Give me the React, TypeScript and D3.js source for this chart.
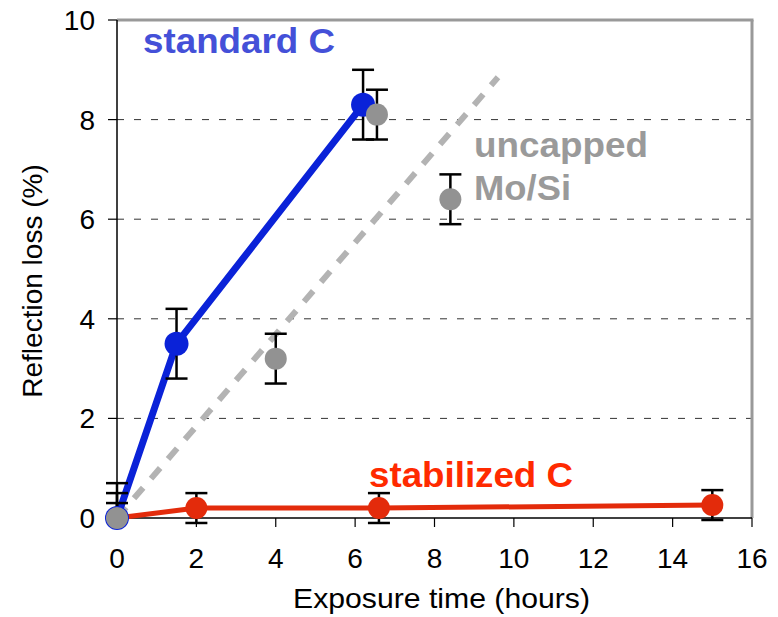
import * as d3 from 'd3';

// exposure time (hours) and reflection loss (%)
const standardX = [0, 1.5, 6.2];
const standardY = [0, 3.5, 8.3];
const standardErr = [0.7, 0.7, 0.7];

const uncappedX = [0, 4, 6.55, 8.4];
const uncappedY = [0, 3.2, 8.1, 6.4];
const uncappedErr = [0.5, 0.5, 0.5, 0.5];

const stabilizedX = [0, 2, 6.6, 15];
const stabilizedY = [0, 0.2, 0.2, 0.26];
const stabilizedErr = [0.3, 0.3, 0.3, 0.3];

// dashed trend for uncapped Mo/Si
const trendX = [0, 9.6];
const trendY = [0, 8.85];

const xTicks = [0, 2, 4, 6, 8, 10, 12, 14, 16];
const yTicks = [0, 2, 4, 6, 8, 10];
const gridTicks = [2, 4, 6, 8];

const W = 778;
const H = 617;
const FONT = "'Liberation Sans', Arial, Helvetica, sans-serif";

function App() {
  const x = d3.scaleLinear().domain([0, 16]).range([117, 752]);
  const y = d3.scaleLinear().domain([0, 10]).range([518, 20]);

  const toPts = (xs: number[], ys: number[]) => xs.map((v, i) => [v, ys[i]] as [number, number]);
  const line = d3.line<[number, number]>().x((d) => x(d[0])).y((d) => y(d[1]));

  // error bars: at t=0 only the upper half shows
  const errBars = (xs: number[], ys: number[], es: number[], key: string) =>
    xs.map((v, i) => {
      const cx = x(v);
      const lo = v === 0 ? ys[i] : ys[i] - es[i];
      const hi = ys[i] + es[i];
      return (
        <g key={key + i} stroke="#000" strokeWidth={2.5}>
          <line x1={cx} x2={cx} y1={y(lo)} y2={y(hi)} />
          <line x1={cx - 11} x2={cx + 11} y1={y(hi)} y2={y(hi)} />
          {v !== 0 && <line x1={cx - 11} x2={cx + 11} y1={y(lo)} y2={y(lo)} />}
        </g>
      );
    });

  return (
    <svg width={W} height={H} style={{ position: 'absolute', left: 0, top: 0, background: '#fff' }} fontFamily={FONT}>
      {/* grid */}
      {gridTicks.map((t) => (
        <line key={'g' + t} x1={x(0)} x2={x(16)} y1={y(t)} y2={y(t)} stroke="#333" strokeWidth={1} strokeDasharray="7,10" />
      ))}

      {/* frame top/right */}
      <line x1={x(0)} x2={x(16) + 1.5} y1={y(10)} y2={y(10)} stroke="#999" strokeWidth={3} />
      <line x1={x(16)} x2={x(16)} y1={y(10)} y2={y(0)} stroke="#999" strokeWidth={3} />

      {/* axes */}
      <line x1={x(0)} x2={x(0)} y1={y(10)} y2={y(0)} stroke="#000" strokeWidth={1.5} />
      <line x1={x(0)} x2={x(16)} y1={y(0)} y2={y(0)} stroke="#000" strokeWidth={1.5} />
      {yTicks.map((t) => (
        <g key={'yt' + t}>
          <line x1={x(0) - 9} x2={x(0)} y1={y(t)} y2={y(t)} stroke="#000" strokeWidth={1.2} />
          <text x={x(0) - 22} y={y(t) + 10} textAnchor="end" fontSize={28} fill="#000">{t}</text>
        </g>
      ))}
      {xTicks.map((t) => (
        <g key={'xt' + t}>
          <line x1={x(t)} x2={x(t)} y1={y(0)} y2={y(0) + 9} stroke="#000" strokeWidth={1.2} />
          <text x={x(t)} y={568} textAnchor="middle" fontSize={28} fill="#000">{t}</text>
        </g>
      ))}
      <text x={293} y={608} fontSize={28} fill="#000" textLength={297} lengthAdjust="spacingAndGlyphs">Exposure time (hours)</text>
      <text transform="translate(42,281) rotate(-90)" textAnchor="middle" fontSize={28} fill="#000">Reflection loss (%)</text>

      {/* lines */}
      <path d={line(toPts(trendX, trendY)) || ''} fill="none" stroke="#b3b3b3" strokeWidth={6} strokeDasharray="14,12" />
      <path d={line(toPts(stabilizedX, stabilizedY)) || ''} fill="none" stroke="#e32b0b" strokeWidth={5} />
      <path d={line(toPts(standardX, standardY)) || ''} fill="none" stroke="#0a22d8" strokeWidth={7} strokeLinejoin="round" />

      {/* error bars */}
      {errBars(stabilizedX, stabilizedY, stabilizedErr, 'es')}
      {errBars(standardX, standardY, standardErr, 'eb')}
      {errBars(uncappedX, uncappedY, uncappedErr, 'eu')}

      {/* markers */}
      {stabilizedX.map((v, i) => (
        <circle key={'ms' + i} cx={x(v)} cy={y(stabilizedY[i])} r={11} fill="#e32b0b" />
      ))}
      {standardX.map((v, i) => (
        <circle key={'mb' + i} cx={x(v)} cy={y(standardY[i])} r={12} fill="#0a22d8" />
      ))}
      {uncappedX.map((v, i) => (
        <circle key={'mu' + i} cx={x(v)} cy={y(uncappedY[i])} r={11} fill="#929292" />
      ))}

      {/* labels */}
      <text x={143} y={53} fontSize={35} fontWeight="bold" fill="#4450d8" textLength={192} lengthAdjust="spacingAndGlyphs">standard C</text>
      <text x={474} y={157} fontSize={35} fontWeight="bold" fill="#9a9a9a" textLength={174} lengthAdjust="spacingAndGlyphs">uncapped</text>
      <text x={474} y={200} fontSize={35} fontWeight="bold" fill="#9a9a9a" textLength={97} lengthAdjust="spacingAndGlyphs">Mo/Si</text>
      <text x={369} y={487} fontSize={35} fontWeight="bold" fill="#ff2a00" textLength={204} lengthAdjust="spacingAndGlyphs">stabilized C</text>
    </svg>
  );
}

export default App;
